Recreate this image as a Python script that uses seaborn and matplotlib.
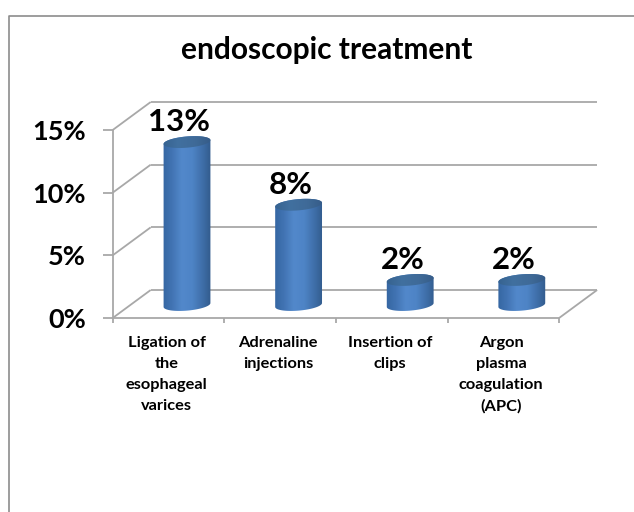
import numpy as np
import pandas as pd
import matplotlib
matplotlib.use("Agg")
import matplotlib.pyplot as plt
import seaborn as sns
from matplotlib.colors import LinearSegmentedColormap
from matplotlib.lines import Line2D
from matplotlib.patches import PathPatch
from matplotlib.path import Path
from matplotlib.transforms import Affine2D, IdentityTransform

# Chart content
title = "endoscopic treatment"
treatments = [
    "Ligation of\nthe\nesophageal\nvarices",
    "Adrenaline\ninjections",
    "Insertion of\nclips",
    "Argon\nplasma\ncoagulation\n(APC)",
]
percent = [13, 8, 2, 2]
y_ticks = [0, 5, 10, 15]

# Pseudo-3D styling
W, H = 634, 512
WALL = "#a8a8a8"
FRAME = "#8c8c8c"
FRONT = (-18.5, -13)    # pixel shift of the front edge of the floor
BACK = (19.5, 15)       # pixel shift of the back wall
RX, RY, TILT = 23.5, 5.6, 5

sns.set_theme(style="white")
plt.rcParams["font.family"] = ["Lato", "DejaVu Sans"]
plt.rcParams["font.weight"] = "bold"

fig = plt.figure(figsize=(W / 100, H / 100), dpi=100, facecolor="white")
ax = fig.add_axes([131.2 / W, (H - 305) / H, 446.4 / W, 188 / H])

df = pd.DataFrame({"treatment": treatments, "percent": percent})
sns.barplot(data=df, x="treatment", y="percent", color="#4f81bd", saturation=1,
            width=0.42, ax=ax, zorder=2)
ax.set_xlim(-0.5, 3.5)
ax.set_ylim(0, 15)
ax.set_xlabel("")
ax.set_ylabel("")
sns.despine(ax=ax, left=True, bottom=True, top=True, right=True)
ax.patch.set_visible(False)


def shifted(dx, dy):
    return ax.transData + Affine2D().translate(dx, dy)


line_kw = dict(color=WALL, lw=1.3, clip_on=False, zorder=1, solid_capstyle="butt")

# Back wall gridlines and the wall edges that run towards the viewer
front_tf, back_tf = shifted(*FRONT), shifted(*BACK)
for v in y_ticks:
    ax.plot([-0.5, 3.5], [v, v], transform=back_tf, **line_kw)
    p0 = front_tf.transform((-0.5, v))
    p1 = back_tf.transform((-0.5, v))
    ax.add_line(Line2D([p0[0], p1[0]], [p0[1], p1[1]], transform=IdentityTransform(), **line_kw))
    ax.add_line(Line2D([p0[0] - 10, p0[0]], [p0[1], p0[1]], transform=IdentityTransform(), **line_kw))

# Front axis lines, floor edge and category ticks
ax.plot([-0.5, -0.5], [0, 15], transform=front_tf, **line_kw)
ax.plot([-0.5, 3.5], [0, 0], transform=front_tf, **line_kw)
p0, p1 = front_tf.transform((3.5, 0)), back_tf.transform((3.5, 0))
ax.add_line(Line2D([p0[0], p1[0]], [p0[1], p1[1]], transform=IdentityTransform(), **line_kw))
for edge in np.arange(-0.5, 4):
    p = front_tf.transform((edge, 0))
    ax.add_line(Line2D([p[0], p[0]], [p[1], p[1] - 5], transform=IdentityTransform(), **line_kw))

# Tick labels sit on the front plane
ax.set_yticks(y_ticks)
ax.set_yticklabels([f"{v}%" for v in y_ticks], fontsize=19.5, fontweight="bold", color="black")
ax.tick_params(axis="y", length=0, pad=32.5)
for lab in ax.get_yticklabels():
    lab.set_transform(lab.get_transform() + Affine2D().translate(0, FRONT[1]))
ax.tick_params(axis="x", length=0, pad=22)
ax.set_xticks(range(len(treatments)))
ax.set_xticklabels(treatments, fontsize=11.8, fontweight="bold", color="black", linespacing=1.65)
for lab in ax.get_xticklabels():
    lab.set_transform(lab.get_transform() + Affine2D().translate(-20.5, 0))

# Cylinder shading
body_cmap = LinearSegmentedColormap.from_list(
    "body", ["#33649f", "#4173b2", "#5288cb", "#4e84c6", "#3f6fa9", "#2f5786"])
cap_cmap = LinearSegmentedColormap.from_list(
    "cap", ["#35618f", "#41709f", "#3f6a98", "#345a86"])
ramp = np.linspace(0, 1, 128).reshape(1, -1)


def ellipse_points(cx, cy, t):
    x, y = RX * np.cos(t), RY * np.sin(t)
    a = np.radians(TILT)
    return np.c_[cx + x * np.cos(a) - y * np.sin(a), cy + x * np.sin(a) + y * np.cos(a)]


def shade(cmap, extent, outline, z):
    """Paint a horizontal colour ramp inside a pixel-space outline."""
    im = ax.imshow(ramp, cmap=cmap, extent=extent, aspect="auto", zorder=z)
    im.set_clip_box(fig.bbox)
    im.set_clip_path(PathPatch(Path(np.vstack([outline, outline[0]]), closed=True),
                               transform=IdentityTransform()))
    return im


for bar, val in zip(ax.patches, percent):
    c = bar.get_x() + bar.get_width() / 2
    x0, x1 = bar.get_x(), bar.get_x() + bar.get_width()
    cx, base = ax.transData.transform((c, 0))
    _, top = ax.transData.transform((c, val))
    outline = np.vstack([
        ellipse_points(cx, base, np.linspace(np.pi, 2 * np.pi, 40)),
        ellipse_points(cx, top, np.linspace(0, np.pi, 40)),
    ])
    pad = 0.02
    shade(body_cmap, (x0 - pad, x1 + pad, -1, val + 1), outline, 3)
    shade(cap_cmap, (x0 - pad, x1 + pad, val - 1, val + 1),
          ellipse_points(cx, top, np.linspace(0, 2 * np.pi, 80)), 4)
    bar.set_visible(False)
    ax.annotate(f"{val}%", xy=(c, val), xytext=(-7.5 * 0.72, 11 * 0.72),
                textcoords="offset points", ha="center", va="baseline",
                fontsize=22.5, fontweight="bold", color="black", zorder=5, annotation_clip=False)

ax.set_xlim(-0.5, 3.5)
ax.set_ylim(0, 15)

fig.text(327 / W, (H - 59) / H, title, ha="center", va="baseline",
         fontsize=21.5, fontweight="bold", color="black")

# Outer chart frame, open on the right and at the bottom
fig.add_artist(Line2D([9 / W, 9 / W, 1], [0, (H - 15.5) / H, (H - 15.5) / H],
                      transform=fig.transFigure, color=FRAME, lw=1.2))

fig.savefig("out.png", dpi=100, facecolor="white")
